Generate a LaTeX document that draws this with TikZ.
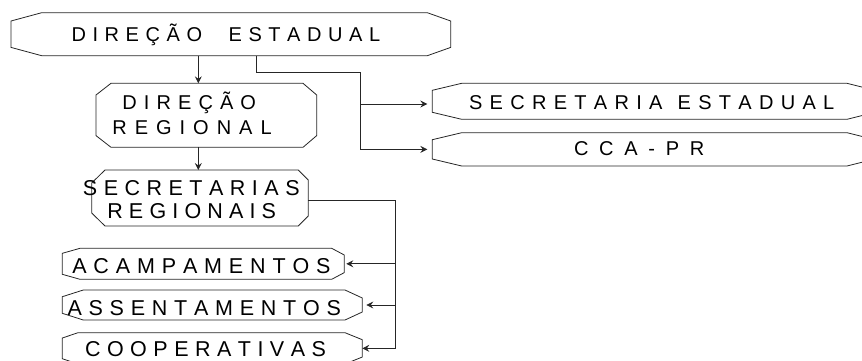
\documentclass[tikz,border=0pt]{standalone}
\usepackage{fontspec}
\setmainfont{Liberation Sans}
\usetikzlibrary{arrows.meta,fit}
\makeatletter
\def\tk@bar{|}
\newcommand\trk[3]{\begingroup\def\tk@sep{}\@tfor\tk@c:=#3\do{\tk@sep\ifx\tk@c\tk@bar\hspace*{#2}\def\tk@sep{}\else\tk@c\def\tk@sep{\hspace*{#1}}\fi}\endgroup}
\makeatother
\tikzset{
  line/.style={draw=black!85, line width=0.8pt},
  boxline/.style={line, line join=miter},
  area/.style={inner sep=0pt, outer sep=0pt, draw=none},
  arr/.style={line, -{Stealth[length=7pt,width=7pt,inset=2.5pt]}},
  lbl/.style={anchor=base, inner sep=0pt, font=\fontsize{20}{20}\selectfont},
  lblb/.style={anchor=base, inner sep=0pt, font=\fontsize{21.5}{21.5}\selectfont}
}
\newcommand\octo[9]{%
  \coordinate (#1-nw) at (#2,#3);
  \coordinate (#1-se) at (#4,#5);
  \node[area, fit=(#1-nw)(#1-se)] (#1) {};
  \draw[boxline] (#2+#6,#3) -- (#4-#8,#3) -- (#4,#3+#9) -- (#4,#5-#9) -- (#4-#8,#5) -- (#2+#6,#5) -- (#2,#5-#7) -- (#2,#3+#7) -- cycle;}
\begin{document}
\begin{tikzpicture}[x=1pt,y=-1pt]
\useasboundingbox (0,0) rectangle (862,360);
\clip (0,0) rectangle (862,360);
% boxes
\octo{de}{11}{12.7}{450.7}{55.7}{30.7}{8.3}{23.4}{8.3}
\octo{dr}{96}{83.3}{316.7}{147.3}{15}{11.7}{13.7}{11.7}
\octo{se}{432.3}{83.3}{875}{119.3}{29.4}{7}{28}{7}
\octo{cca}{432.3}{132.7}{875}{166}{29.4}{7}{28}{7}
\octo{sr}{91.7}{170}{308.3}{226}{13.3}{13}{10}{10}
\octo{acamp}{62.3}{248.3}{344.3}{279.3}{17.7}{5}{12.6}{6.7}
\octo{assent}{62.3}{290}{362.3}{320}{21}{6.7}{17.3}{8}
\octo{coop}{62.3}{332.7}{362.3}{364}{15.7}{5.3}{17.3}{7}
% texts
\node[lbl] (tde) at (225.9,41.7) {\trk{6.56pt}{20pt}{DIREÇÃO|ESTADUAL}};
\node[lbl] (tdr1) at (189.2,109.3) {\trk{7.09pt}{0pt}{DIREÇÃO}};
\node[lbl] (tdr2) at (192,134) {\trk{8.0pt}{0pt}{REGIONAL}};
\node[lbl] (tse) at (651.7,109.3) {\trk{7.28pt}{8pt}{SECRETARIA|ESTADUAL}};
\node[lbl] (tcca) at (639.2,155) {\trk{10.73pt}{0pt}{CCA-PR}};
\node[lblb] (tsr1) at (191.3,195) {\trk{6.5pt}{0pt}{SECRETARIAS}};
\node[lblb] (tsr2) at (191.7,218.3) {\trk{6.16pt}{0pt}{REGIONAIS}};
\node[lblb] (tacamp) at (201.4,273.3) {\trk{6.86pt}{0pt}{ACAMPAMENTOS}};
\node[lblb] (tassent) at (204.2,315) {\trk{6.75pt}{0pt}{ASSENTAMENTOS}};
\node[lblb] (tcoop) at (205.5,356.7) {\trk{6.48pt}{0pt}{COOPERATIVAS}};
% connectors
\coordinate (ca) at (198.3,0);
\draw[arr] (ca |- de.south) -- (ca |- dr.north);
\draw[arr] (ca |- dr.south) -- (ca |- sr.north);
\coordinate (cb) at (256.7,72.7);
\coordinate (cc) at (360,72.7);
\coordinate (jse) at (360,104);
\draw[arr, shorten >=5pt] (cb |- de.south) -- (cb) -- (cc) |- (cca.west);
\draw[arr, shorten >=5pt] (jse) -- (jse -| se.west);
\coordinate (jr) at (395,200.7);
\draw[arr] (jr -| sr.east) -- (jr) |- (coop.east);
\draw[arr, shorten >=2pt] (jr |- acamp.east) -- (acamp.east);
\draw[arr, shorten >=4pt] (jr |- assent.east) -- (assent.east);
\end{tikzpicture}
\end{document}
